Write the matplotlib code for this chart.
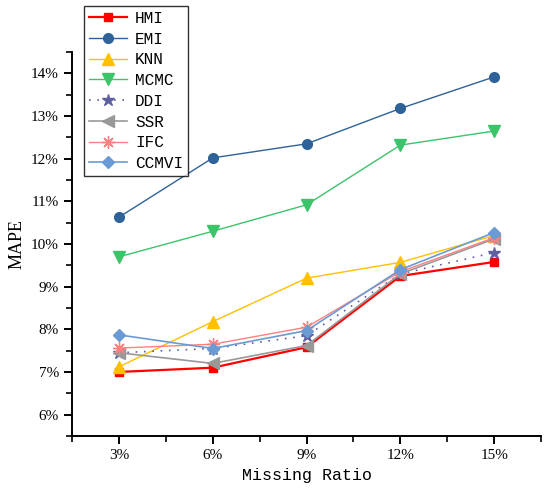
import matplotlib
matplotlib.use('Agg')
import matplotlib.pyplot as plt
from matplotlib.ticker import MultipleLocator, FuncFormatter

ratios = [3, 6, 9, 12, 15]
xlabels = ['3%', '6%', '9%', '12%', '15%']

hmi = [7.00, 7.10, 7.58, 9.25, 9.58]
emi = [10.63, 12.02, 12.35, 13.18, 13.92]
knn = [7.12, 8.18, 9.20, 9.57, 10.20]
mcmc = [9.70, 10.30, 10.92, 12.32, 12.65]
ddi = [7.45, 7.55, 7.85, 9.30, 9.80]
ssr = [7.45, 7.20, 7.62, 9.30, 10.12]
ifc = [7.56, 7.65, 8.05, 9.35, 10.15]
ccmvi = [7.87, 7.55, 7.97, 9.40, 10.27]

mono = 'Liberation Mono'
serif = 'Liberation Serif'

fig = plt.figure(figsize=(5.46, 4.92), dpi=100)
ax = fig.add_axes([0.132, 0.114, 0.859, 0.780])

ax.plot(ratios, hmi, color='#ff0000', lw=1.6, marker='s', ms=6, label='HMI')
ax.plot(ratios, emi, color='#2e6298', lw=1.0, marker='o', ms=7, label='EMI')
ax.plot(ratios, knn, color='#ffc000', lw=1.0, marker='^', ms=8, label='KNN')
ax.plot(ratios, mcmc, color='#3cc46a', lw=1.0, marker='v', ms=8, label='MCMC')
ax.plot(ratios, ddi, color='#5e5f9e', lw=1.2, ls=(0, (1, 4)), marker='*', ms=9, label='DDI')
ax.plot(ratios, ssr, color='#999999', lw=1.2, marker='<', ms=8, label='SSR')
ax.plot(ratios, ifc, color='#ff8080', lw=1.0, marker=(8, 2, 0), ms=9, mew=1.0, label='IFC')
ax.plot(ratios, ccmvi, color='#6a9bd4', lw=1.2, marker='D', ms=6.5, label='CCMVI')

ax.set_xlim(1.5, 16.5)
ax.set_ylim(5.5, 14.5)
ax.set_xticks(ratios)
ax.set_xticklabels(xlabels)
ax.xaxis.set_minor_locator(MultipleLocator(1.5))
ax.yaxis.set_major_locator(MultipleLocator(1))
ax.yaxis.set_minor_locator(MultipleLocator(0.5))
ax.yaxis.set_major_formatter(FuncFormatter(lambda v, p: '%d%%' % round(v)))

for s in ['top', 'right']:
    ax.spines[s].set_visible(False)
for s in ['left', 'bottom']:
    ax.spines[s].set_linewidth(1.4)
ax.tick_params(which='major', direction='out', length=6, width=1.4, labelsize=11)
ax.tick_params(which='minor', direction='out', length=4, width=1.2)
for t in ax.get_xticklabels() + ax.get_yticklabels():
    t.set_fontfamily(serif)

ax.set_xlabel('Missing Ratio', family=mono, fontsize=12)
ax.set_ylabel('MAPE', family=serif, fontsize=13)

leg = fig.legend(loc='upper left', bbox_to_anchor=(84 / 546, 1 - 6 / 492),
                 bbox_transform=fig.transFigure, borderaxespad=0,
                 frameon=True, fancybox=False, edgecolor='black',
                 prop={'family': mono, 'size': 11.5}, handlelength=2.4,
                 labelspacing=0.36, borderpad=0.3, handletextpad=0.5)
leg.get_frame().set_linewidth(1.0)

plt.savefig('out.png', dpi=100)
plt.close()
